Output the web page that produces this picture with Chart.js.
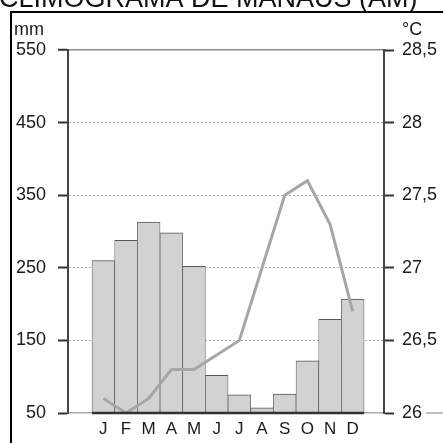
<!DOCTYPE html>
<html>
<head>
<meta charset="utf-8">
<script src="https://cdn.jsdelivr.net/npm/chart.js@4/dist/chart.umd.min.js"></script>
<style>
  html, body { margin: 0; padding: 0; background: #fff; }
  #climo { display: block; }
</style>
</head>
<body>
<canvas id="climo" width="443" height="443"></canvas>
<script>
const months = ["J", "F", "M", "A", "M", "J", "J", "A", "S", "O", "N", "D"];
const rainfall = [260, 288, 313, 298, 252, 102, 75, 57, 76, 122, 179, 207];
const temperature = [26.1, 26.0, 26.1, 26.3, 26.3, 26.4, 26.5, 27.0, 27.5, 27.6, 27.3, 26.7];
const title = "CLIMOGRAMA DE MANAUS (AM)";

const font = "'Liberation Sans', Arial, sans-serif";

// frame, title, unit labels and the dark base under the bars
const decorations = {
    id: "decorations",
    afterDatasetsDraw(chart) {
        const ctx = chart.ctx;
        const x = chart.scales.x;
        const base = chart.scales.y.getPixelForValue(50);
        ctx.save();
        ctx.strokeStyle = "#333";
        ctx.lineWidth = 2.5;
        ctx.beginPath();
        ctx.moveTo(x.getPixelForValue(-0.5), base);
        ctx.lineTo(x.getPixelForValue(months.length - 0.5), base);
        ctx.stroke();
        ctx.restore();
    },
    afterDraw(chart) {
        const ctx = chart.ctx;
        const area = chart.chartArea;
        ctx.save();
        ctx.fillStyle = "#111";
        ctx.font = "27px " + font;
        ctx.textBaseline = "alphabetic";
        ctx.textAlign = "left";
        ctx.fillText(title, -1, 7);

        ctx.strokeStyle = "#000";
        ctx.lineWidth = 2;
        ctx.beginPath();
        ctx.moveTo(11, 443);
        ctx.lineTo(11, 12);
        ctx.lineTo(443, 12);
        ctx.stroke();

        ctx.font = "18px " + font;
        ctx.fillStyle = "#1a1a1a";
        ctx.textBaseline = "alphabetic";
        ctx.fillText("mm", 14, 35);
        ctx.fillText("°C", 402, 35);

        ctx.strokeStyle = "#aaa";
        ctx.lineWidth = 1.5;
        ctx.beginPath();
        ctx.moveTo(426, area.bottom);
        ctx.lineTo(443, area.bottom);
        ctx.stroke();
        ctx.restore();
    }
};

new Chart(document.getElementById("climo"), {
    type: "bar",
    data: {
        datasets: [
            {
                type: "line",
                data: temperature.map((t, i) => ({ x: i, y: t })),
                yAxisID: "y2",
                borderColor: "#a6a6a6",
                borderWidth: 3,
                pointRadius: 0,
                tension: 0,
                order: 0
            },
            {
                data: rainfall.map((r, i) => ({ x: i, y: r })),
                yAxisID: "y",
                backgroundColor: "#d2d2d2",
                borderColor: "#555",
                borderWidth: { top: 1, left: 0.7, right: 0.7, bottom: 0 },
                borderSkipped: "start",
                categoryPercentage: 1,
                barPercentage: 1,
                order: 1
            }
        ]
    },
    options: {
        responsive: false,
        animation: false,
        layout: { padding: { top: 50, left: 0, right: 0, bottom: 0 } },
        plugins: { legend: { display: false }, tooltip: { enabled: false } },
        scales: {
            x: {
                type: "linear",
                min: -1.56,
                max: 12.38,
                offset: false,
                afterBuildTicks: (s) => { s.ticks = months.map((m, i) => ({ value: i })); },
                afterFit: (s) => { s.height = 30; },
                ticks: {
                    callback: (v) => months[v],
                    color: "#1a1a1a",
                    font: { family: font, size: 17 },
                    padding: 6,
                    maxRotation: 0,
                    autoSkip: false
                },
                grid: { display: false, drawTicks: false, offset: false },
                border: { display: true, color: "#aaa", width: 1.5 }
            },
            y: {
                position: "left",
                min: 50,
                max: 550,
                afterFit: (s) => { s.width = 68; },
                ticks: {
                    stepSize: 100,
                    color: "#1a1a1a",
                    font: { family: font, size: 18 },
                    padding: 12
                },
                grid: {
                    color: (c) => c.tick.value === 550 ? "#8c8c8c" : (c.tick.value === 50 ? "rgba(0,0,0,0)" : "#b5b5b5"),
                    lineWidth: (c) => c.tick.value === 550 ? 1.5 : 1,
                    tickColor: "#333",
                    tickWidth: 2,
                    tickLength: 10
                },
                border: {
                    color: "#444",
                    width: 2,
                    dash: (c) => c.tick && c.tick.value !== 550 ? [2, 2] : []
                }
            },
            y2: {
                position: "right",
                min: 26,
                max: 28.5,
                afterFit: (s) => { s.width = 59; },
                ticks: {
                    stepSize: 0.5,
                    callback: (v) => String(v).replace(".", ","),
                    color: "#1a1a1a",
                    font: { family: font, size: 18 },
                    padding: 8
                },
                grid: {
                    drawOnChartArea: false,
                    tickColor: "#333",
                    tickWidth: 2,
                    tickLength: 10
                },
                border: { color: "#444", width: 2 }
            }
        }
    },
    plugins: [decorations]
});
</script>
</body>
</html>
